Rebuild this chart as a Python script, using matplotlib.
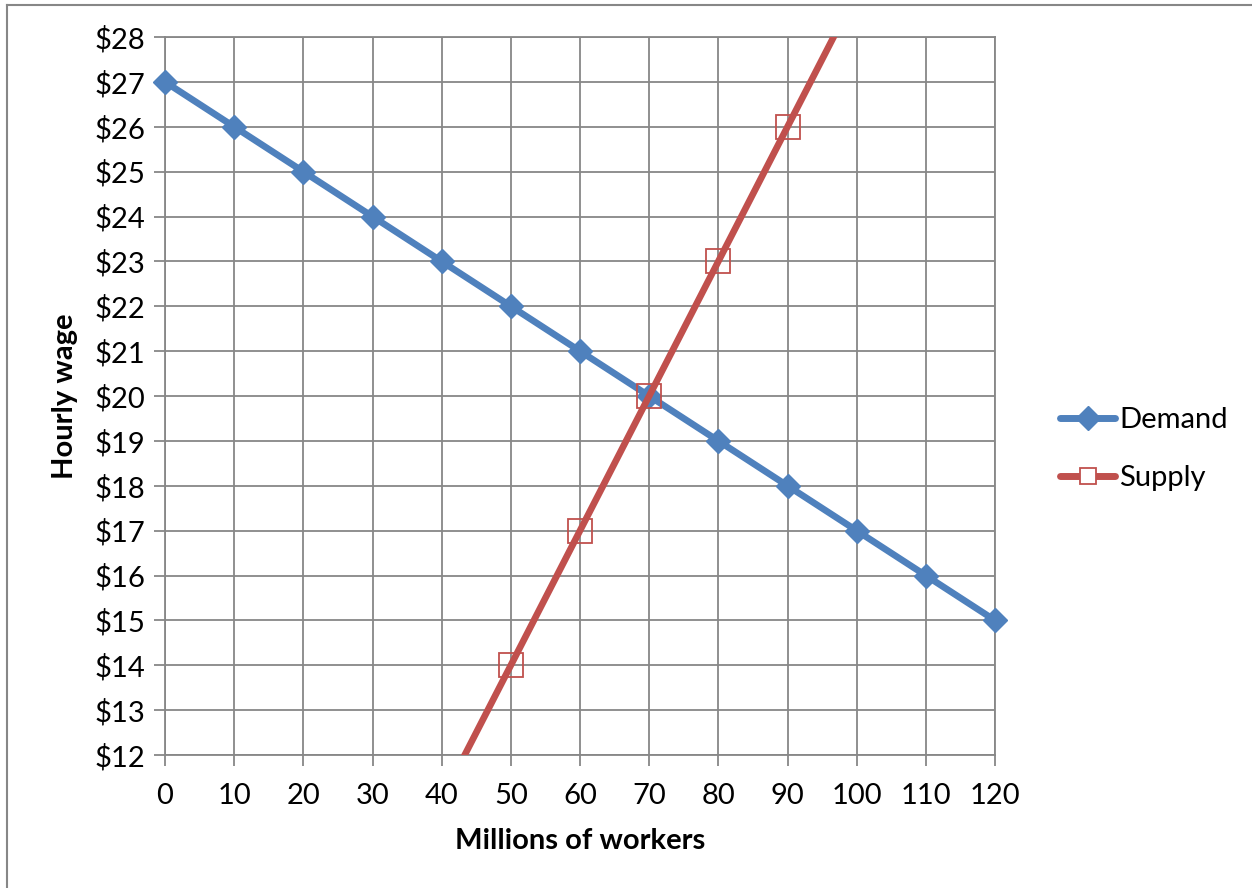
import matplotlib.pyplot as plt
from matplotlib.lines import Line2D
from matplotlib.ticker import FuncFormatter

# data
workers = [0, 10, 20, 30, 40, 50, 60, 70, 80, 90, 100, 110, 120]
demand = [27, 26, 25, 24, 23, 22, 21, 20, 19, 18, 17, 16, 15]
supply_workers = [40, 50, 60, 70, 80, 90, 100]
supply = [11, 14, 17, 20, 23, 26, 29]

blue = '#4F81BD'
red = '#C0504D'
grid = '#878787'

plt.rcParams['font.family'] = ['Lato', 'DejaVu Sans']

W, H = 1252, 888
fig = plt.figure(figsize=(W / 100, H / 100), dpi=100)
ax = fig.add_axes([165 / W, 1 - 755 / H, (995 - 165) / W, (755 - 37) / H])

ax.plot(workers, demand, color=blue, lw=4.8, marker='D', ms=12.5,
        mfc=blue, mec=blue, label='Demand', zorder=3, clip_on=False)
ax.plot(supply_workers, supply, color=red, lw=4.8, marker='s', ms=17,
        mfc='none', mec=red, mew=1.3, label='Supply', zorder=4)

ax.set_xlim(0, 120)
ax.set_ylim(12, 28)
ax.set_xticks(workers)
ax.set_yticks(range(12, 29))
ax.yaxis.set_major_formatter(FuncFormatter(lambda v, p: '$%d' % v))
ax.grid(True, color=grid, lw=1.3)
ax.set_axisbelow(True)
for s in ax.spines.values():
    s.set_color(grid)
    s.set_linewidth(1.3)
ax.tick_params(length=8, width=1.3, color=grid, labelsize=21,
               labelcolor='black', pad=6)
ax.tick_params(axis='x', pad=12)

ax.set_xlabel('Millions of workers', fontsize=21, fontweight='bold', labelpad=14)
ax.set_ylabel('Hourly wage', fontsize=21, fontweight='bold', labelpad=12)

handles = [Line2D([], [], color=blue, lw=5, marker='D', ms=12, mfc=blue, mec=blue,
                  solid_capstyle='round'),
           Line2D([], [], color=red, lw=5, marker='s', ms=12, mfc='white', mec=red, mew=1.3,
                  solid_capstyle='round')]
fig.legend(handles, ['Demand', 'Supply'], loc='center left',
           bbox_to_anchor=(1060 / W, 1 - 449 / H), frameon=False,
           borderpad=0, borderaxespad=0,
           fontsize=21, handlelength=1.9, handletextpad=0.12, labelspacing=1.1)

# outer chart border
fig.add_artist(Line2D([7 / W, 7 / W], [0, 1 - 5 / H], color=grid, lw=1.5))
fig.add_artist(Line2D([7 / W, 1], [1 - 5 / H, 1 - 5 / H], color=grid, lw=1.5))

fig.savefig('out.png', dpi=100)
